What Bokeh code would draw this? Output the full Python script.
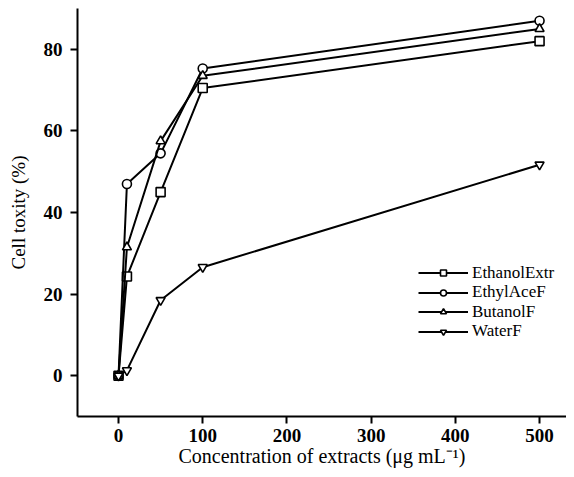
from bokeh.plotting import figure
from bokeh.models import Legend, LegendItem, Range1d, FixedTicker
from bokeh.embed import file_html
from bokeh.resources import INLINE

conc = [0, 10, 50, 100, 500]
ethanol = [0, 24.3, 45, 70.5, 82]
ethylace = [0, 47, 54.5, 75.3, 87]
butanol = [0, 31.5, 57.5, 73.5, 85]
water = [0, 1.3, 18.5, 26.6, 51.7]

series = [
    ("EthanolExtr", ethanol, "square"),
    ("EthylAceF", ethylace, "circle"),
    ("ButanolF", butanol, "triangle"),
    ("WaterF", water, "inverted_triangle"),
]

FONT = "Liberation Serif"

p = figure(width=566, height=469, output_backend="svg", toolbar_location=None,
           x_range=Range1d(-48.7, 532), y_range=Range1d(-10, 90),
           min_border_left=77, min_border_top=8, min_border_right=0, min_border_bottom=51)
p.outline_line_color = None
p.grid.visible = False
p.background_fill_color = "white"

for ax in (p.xaxis[0], p.yaxis[0]):
    ax.axis_line_width = 2
    ax.major_tick_line_width = 2
    ax.major_tick_out = 7
    ax.major_tick_in = 0
    ax.minor_tick_out = 0
    ax.minor_tick_in = 0
    ax.major_label_text_font = FONT
    ax.major_label_text_font_size = "19px"
    ax.major_label_text_font_style = "bold"
    ax.major_label_text_color = "black"
    ax.axis_label_text_font = FONT
    ax.axis_label_text_font_size = "19px"
    ax.axis_label_text_font_style = "normal"
    ax.axis_label_text_color = "black"
    ax.axis_line_color = "black"
    ax.major_tick_line_color = "black"

p.xaxis.ticker = FixedTicker(ticks=[0, 100, 200, 300, 400, 500])
p.yaxis.ticker = FixedTicker(ticks=[0, 20, 40, 60, 80])
p.xaxis.axis_label = "Concentration of extracts (\u03bcg mL\u207b\u00b9)"
p.xaxis.axis_label_text_font_size = "20px"
p.yaxis.axis_label = "Cell toxity (%)"
p.xaxis.major_label_standoff = 5
p.xaxis.axis_label_standoff = 0
p.yaxis.major_label_standoff = 8
p.yaxis.axis_label_standoff = 12

items = []
for name, vals, marker in series:
    lr = p.line(conc, vals, line_color="black", line_width=2)
    sr = p.scatter(conc, vals, marker=marker, size=9, fill_color="white",
                   line_color="black", line_width=1.6)
    items.append(LegendItem(label=name, renderers=[lr, sr]))

row_offsets = [133.5, 114, 94.5, 75]
for item, yoff in zip(items, row_offsets):
    legend = Legend(items=[item], location=(341, yoff), glyph_width=50, glyph_height=15,
                    label_height=15, spacing=0, padding=0, margin=0,
                    label_text_font=FONT, label_text_font_size="17px",
                    label_text_color="black",
                    label_standoff=4, border_line_color=None, background_fill_alpha=0)
    p.add_layout(legend, "center")

open("out.html", "w").write(file_html(p, INLINE))
